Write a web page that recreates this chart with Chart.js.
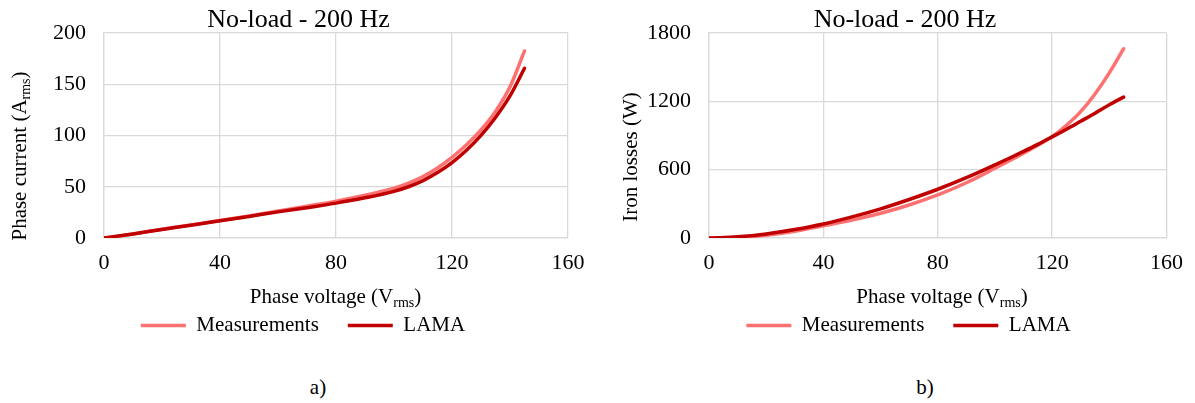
<!DOCTYPE html>
<html>
<head>
<meta charset="utf-8">
<script src="https://cdn.jsdelivr.net/npm/chart.js@4.4.1/dist/chart.umd.min.js"></script>
<style>
  html, body { margin: 0; padding: 0; background: #fff; width: 1195px; height: 403px; overflow: hidden; }
  canvas { position: absolute; top: 0; }
  .caption { position: absolute; top: 377px; width: 40px; text-align: center;
             font-family: "Liberation Serif", "Times New Roman", serif; font-size: 21px; line-height: 21px; color: #000; }
</style>
</head>
<body>
<canvas id="chartA" width="597" height="346" style="left:0px"></canvas>
<canvas id="chartB" width="595" height="346" style="left:600px"></canvas>
<div class="caption" style="left:298px">a)</div>
<div class="caption" style="left:905px">b)</div>
<script>
// ---- data ----
const chartTitle = 'No-load - 200 Hz';
const seriesNames = ['Measurements', 'LAMA'];
const voltage = [0, 10, 20, 30, 40, 50, 60, 70, 80, 90, 100, 105, 110, 115, 120, 125, 130, 135, 140, 145];
const currentMeasured = [0, 4, 8.5, 12.8, 17, 21.6, 26.3, 31, 36, 41.8, 48.5, 53.5, 60, 68.3, 78.6, 90.9, 105.5, 123.5, 147.5, 182.5];
const currentLama     = [0, 4, 8.3, 12.5, 16.8, 21, 25.5, 29.5, 34, 39.2, 45.5, 50, 56, 63.8, 73.6, 85.6, 100.1, 117.6, 138.6, 165.6];
const lossMeasured = [0, 4, 25, 60, 107, 157, 217, 290, 378, 485, 612, 678, 745, 815, 890, 990, 1110, 1265, 1450, 1662];
const lossLama     = [0, 10, 35, 74, 123, 185, 256, 338, 428, 530, 642, 700, 760, 822, 888, 955, 1025, 1095, 1170, 1237];
const voltageTicks = [0, 40, 80, 120, 160];
const currentTicks = [0, 50, 100, 150, 200];
const lossTicks = [0, 600, 1200, 1800];
const xTitleParts = [['Phase voltage (V', false], ['rms', true], [')', false]];
const currentTitleParts = [['Phase current (A', false], ['rms', true], [')', false]];
const lossTitleParts = [['Iron losses (W)', false]];

// ---- styling ----
const SERIF = '"Liberation Serif", "Times New Roman", serif';
const GRID = '#d9d9d9';
const PINK = '#ff7070';
const DARK = '#c00000';

function drawRich(ctx, parts, cx, baseY, size) {
  const subSize = Math.round(size * 0.65);
  const widths = parts.map(([t, sub]) => {
    ctx.font = (sub ? subSize : size) + 'px ' + SERIF;
    return ctx.measureText(t).width;
  });
  let x = cx - widths.reduce((a, b) => a + b, 0) / 2;
  parts.forEach(([t, sub], i) => {
    ctx.font = (sub ? subSize : size) + 'px ' + SERIF;
    ctx.fillText(t, x, sub ? baseY + 4 : baseY);
    x += widths[i];
  });
}

// Draws the chart heading and the axis titles (with subscripts).
const panelText = {
  id: 'panelText',
  afterDraw(chart, args, o) {
    const ctx = chart.ctx;
    ctx.save();
    ctx.fillStyle = '#000';
    ctx.textAlign = 'left';
    ctx.textBaseline = 'alphabetic';
    drawRich(ctx, [[o.title, false]], o.titleX, o.titleY, 26);
    drawRich(ctx, o.xParts, o.xTitleX, o.xTitleY, 21);
    ctx.translate(o.yTitleX, o.yTitleY);
    ctx.rotate(-Math.PI / 2);
    drawRich(ctx, o.yParts, 0, 0, 21);
    ctx.restore();
  }
};

function series(xs, ys) { return xs.map((x, i) => ({ x, y: ys[i] })); }

function buildChart(id, measured, lama, yTicks, yParts, layout) {
  const tickFont = { family: SERIF, size: 22 };
  return new Chart(document.getElementById(id), {
    type: 'line',
    data: {
      datasets: [
        { label: seriesNames[0], data: series(voltage, measured), borderColor: PINK, backgroundColor: PINK,
          borderWidth: 3.5, borderCapStyle: 'round', pointRadius: 0, cubicInterpolationMode: 'monotone', order: 1 },
        { label: seriesNames[1], data: series(voltage, lama), borderColor: DARK, backgroundColor: DARK,
          borderWidth: 3.5, borderCapStyle: 'round', pointRadius: 0, cubicInterpolationMode: 'monotone', order: 0 }
      ]
    },
    options: {
      responsive: false,
      animation: false,
      devicePixelRatio: 1,
      layout: { padding: { left: layout.padLeft, right: layout.padRight, top: 33, bottom: 0 } },
      scales: {
        x: {
          type: 'linear',
          min: voltageTicks[0], max: voltageTicks[voltageTicks.length - 1],
          afterBuildTicks: s => { s.ticks = voltageTicks.map(v => ({ value: v })); },
          afterFit: s => { s.height = 48; },
          grid: { color: GRID, lineWidth: 1.3, drawTicks: false },
          border: { color: GRID, width: 1.3 },
          ticks: { padding: 12, color: '#000', font: tickFont, callback: v => String(v) }
        },
        y: {
          type: 'linear',
          min: yTicks[0], max: yTicks[yTicks.length - 1],
          afterBuildTicks: s => { s.ticks = yTicks.map(v => ({ value: v })); },
          afterFit: s => { s.width = layout.yWidth; },
          grid: { color: GRID, lineWidth: 1.3, drawTicks: false },
          border: { color: GRID, width: 1.3 },
          ticks: { padding: 18, color: '#000', font: tickFont, callback: v => String(v) }
        }
      },
      plugins: {
        tooltip: { enabled: false },
        title: { display: false },
        legend: {
          position: 'bottom',
          align: 'center',
          labels: {
            usePointStyle: true, pointStyle: 'line', pointStyleWidth: 45,
            padding: 29, color: '#000', font: { family: SERIF, size: 21 },
            sort: (a, b) => a.datasetIndex - b.datasetIndex
          }
        },
        panelText: {
          title: chartTitle, titleX: layout.titleX, titleY: 27,
          xParts: xTitleParts, xTitleX: layout.xTitleX, xTitleY: 303,
          yParts: yParts, yTitleX: layout.yTitleX, yTitleY: layout.yTitleY
        }
      }
    },
    plugins: [panelText]
  });
}

buildChart('chartA', currentMeasured, currentLama, currentTicks, currentTitleParts,
  { padLeft: 38, padRight: 29, yWidth: 66, titleX: 298.5, xTitleX: 335.5, yTitleX: 26, yTitleY: 156 });
buildChart('chartB', lossMeasured, lossLama, lossTicks, lossTitleParts,
  { padLeft: 48, padRight: 26, yWidth: 61, titleX: 305, xTitleX: 342, yTitleX: 37, yTitleY: 157 });
</script>
</body>
</html>
